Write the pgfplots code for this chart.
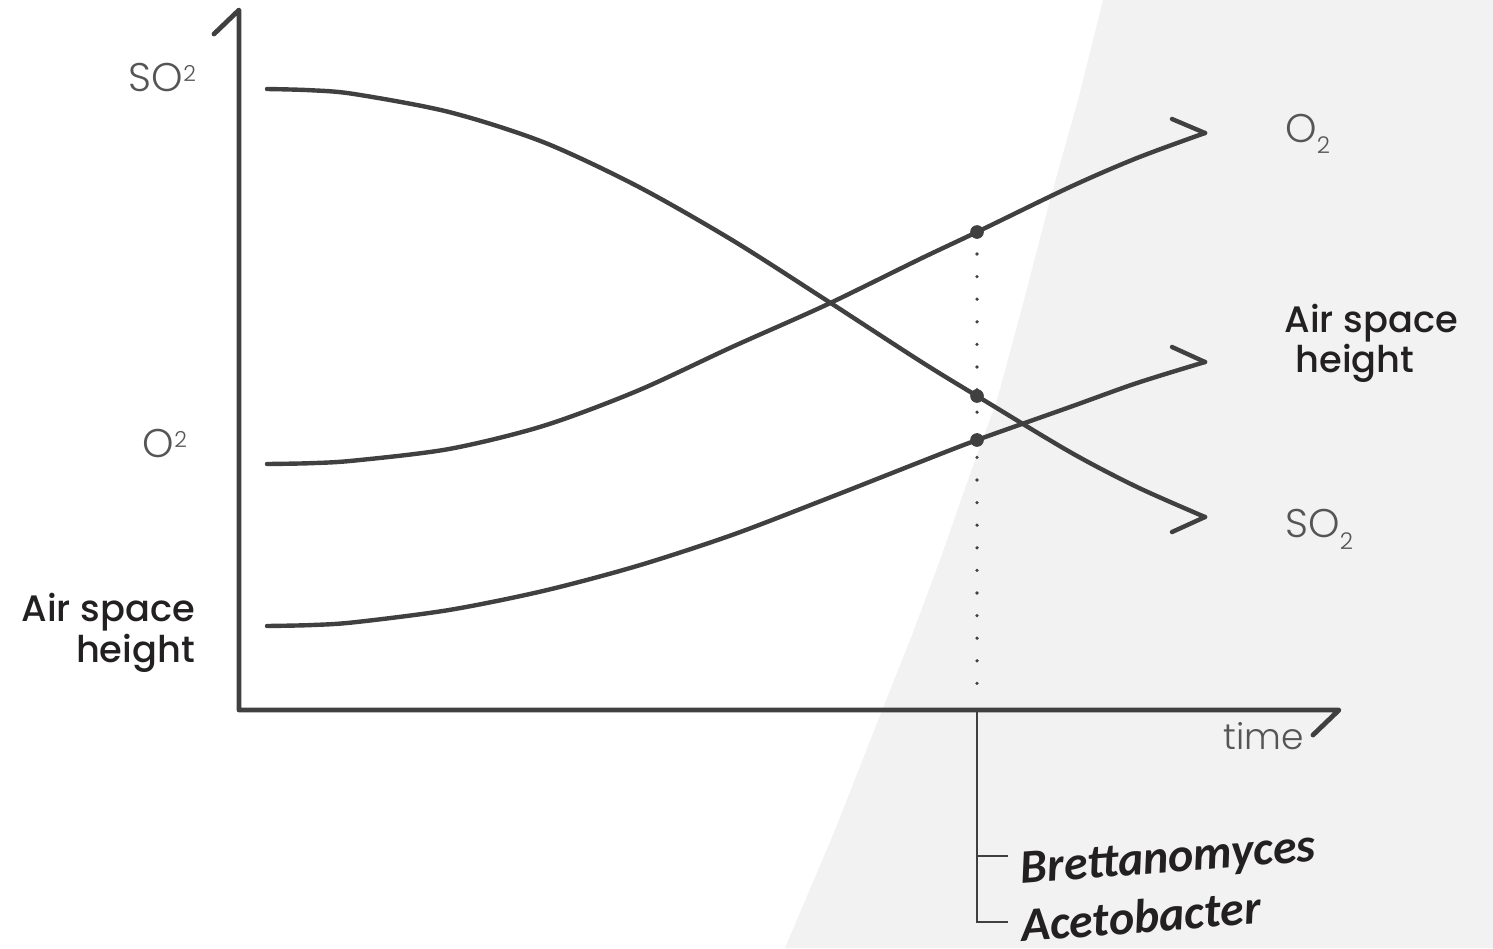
\documentclass[border=0pt]{standalone}
\usepackage{pgfplots}
\pgfplotsset{compat=1.18}
\usepackage{fontspec}
\newfontfamily\thinfont{Poppins Light}
\newfontfamily\medfont{Poppins Medium}
\newfontfamily\bugfont{Carlito}
\definecolor{ink}{RGB}{64,64,64}
\definecolor{lbl}{RGB}{85,85,85}
\definecolor{dark}{RGB}{35,32,33}
\definecolor{shade}{RGB}{242,242,242}

\begin{document}
\begin{tikzpicture}
\clip (0,0) rectangle (746.5pt,474pt);
\begin{axis}[
  at={(0,0)}, anchor=south west,
  scale only axis, width=746.5pt, height=474pt,
  xmin=0, xmax=1493, ymin=0, ymax=948, y dir=reverse,
  hide axis, clip=false,
]
% shaded region on the right
\addplot[draw=none, fill=shade] coordinates {
  (1103,0) (1078,100) (1050,200) (1024,300) (997,400) (968,480)
  (940,560) (912,635) (883,708) (835,830) (785,948) (1493,948) (1493,0)};

% SO2
\addplot[ink, line width=2.2pt, smooth, line cap=round] coordinates {
  (267,89) (310,90.2) (354,94) (449,112) (543,142) (637,186) (732,240) (826,300)
  (920,361) (977,396) (1070,452) (1137,487) (1205,517)};
\addplot[ink, line width=2.2pt, line cap=round] coordinates {(1205,517) (1172,532)};

% O2
\addplot[ink, line width=2.2pt, smooth, line cap=round] coordinates {
  (267,464) (310,463.2) (354,460.6) (449,449) (543,426) (637,391) (732,347) (826,305)
  (920,259) (977,232) (1070,187) (1137,158) (1205,133)};
\addplot[ink, line width=2.2pt, line cap=round] coordinates {(1172,119) (1205,133)};

% air space height
\addplot[ink, line width=2.2pt, smooth, line cap=round] coordinates {
  (267,626) (310,625.1) (354,622.3) (449,610) (543,591) (637,566) (732,535) (826,499)
  (920,462) (977,440) (1070,407) (1137,383) (1205,362)};
\addplot[ink, line width=2.2pt, line cap=round] coordinates {(1172,347) (1205,362)};

% dotted marker line and points
\addplot[ink, line width=1.8pt, line cap=round, dash pattern=on 0pt off 11.3pt]
  coordinates {(977,254) (977,690)};
\addplot[only marks, mark=*, mark size=3.2pt, ink] coordinates {(977,232) (977,396) (977,440)};

% axes
\addplot[ink, line width=2.4pt, line cap=round, line join=round] coordinates {
  (214,34) (239,10) (239,710) (1339,710) (1313,735)};

% bracket
\addplot[ink, line width=1.35pt] coordinates {(977,710) (977,922) (1008,922)};
\addplot[ink, line width=1.35pt] coordinates {(977,856) (1008,856)};

% labels
\node[anchor=base east, lbl, font=\thinfont\fontsize{20}{24}\selectfont] at (203,91)
  {SO\raisebox{5pt}{\fontsize{11}{12}\selectfont 2}};
\node[anchor=base east, lbl, font=\thinfont\fontsize{20}{24}\selectfont] at (194,457)
  {O\raisebox{5pt}{\fontsize{11}{12}\selectfont 2}};
\node[anchor=base east, dark, font=\medfont\fontsize{18.4}{24}\selectfont] at (202,621) {Air space};
\node[anchor=base east, dark, font=\medfont\fontsize{18.4}{24}\selectfont] at (202,662) {height};

\node[anchor=base west, lbl, font=\thinfont\fontsize{20}{24}\selectfont, inner sep=0pt] at (1285,142)
  {O\raisebox{-5.5pt}{\fontsize{11.5}{12}\selectfont 2}};
\node[anchor=base west, lbl, font=\thinfont\fontsize{20}{24}\selectfont, inner sep=0pt] at (1285,537)
  {SO\raisebox{-6pt}{\fontsize{11.5}{12}\selectfont 2}};
\node[anchor=base west, dark, font=\medfont\fontsize{18.4}{24}\selectfont, inner sep=0pt] at (1284,332) {Air space};
\node[anchor=base west, dark, font=\medfont\fontsize{18.4}{24}\selectfont, inner sep=0pt] at (1295,372) {height};
\node[anchor=base west, lbl, font=\thinfont\fontsize{18}{24}\selectfont, inner sep=0pt] at (1223,749) {time};

\node[anchor=base west, dark, rotate=4.5, inner sep=0pt,
  font=\bugfont\bfseries\itshape\fontsize{24}{28}\selectfont] at (1021,884) {Brettanomyces};
\node[anchor=base west, dark, rotate=4.5, inner sep=0pt,
  font=\bugfont\bfseries\itshape\fontsize{24}{28}\selectfont] at (1022,942) {Acetobacter};
\end{axis}
\end{tikzpicture}
\end{document}
